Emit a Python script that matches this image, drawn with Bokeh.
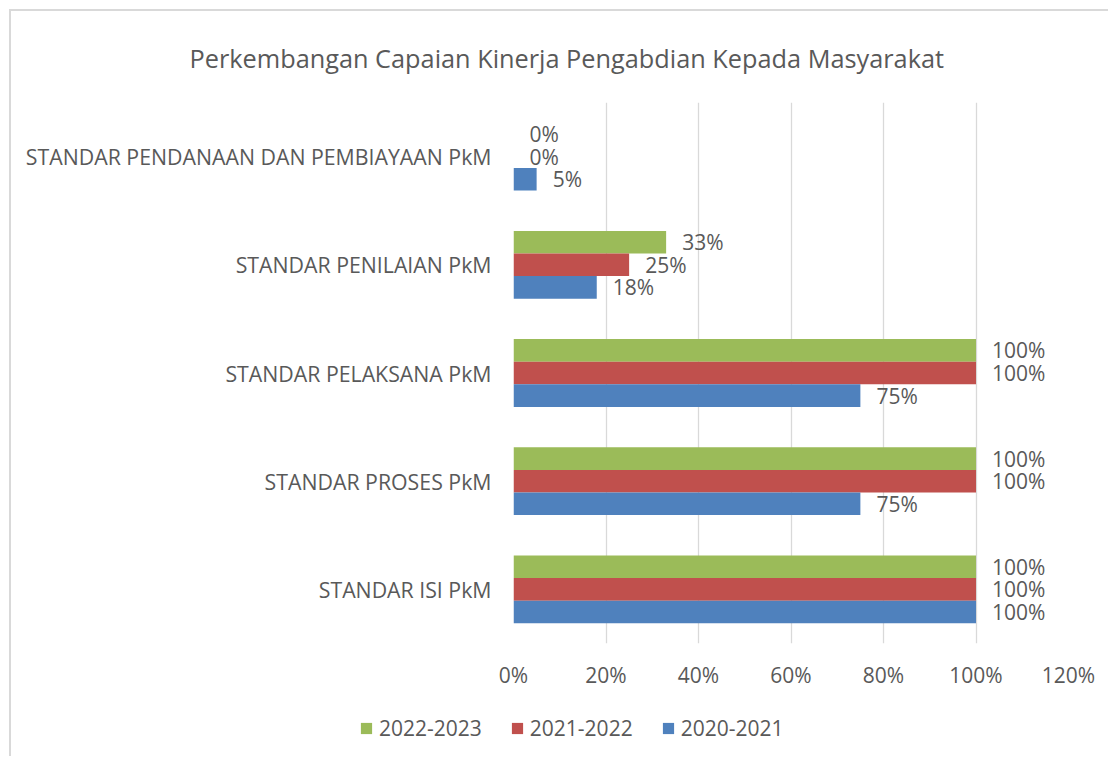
from bokeh.plotting import figure
from bokeh.layouts import column
from bokeh.models import (ColumnDataSource, Legend, LegendItem, Title,
                          NumeralTickFormatter, FixedTicker, Range1d, FactorRange)
from bokeh.transform import dodge
from bokeh.core.properties import value
from bokeh.embed import file_html
from bokeh.resources import INLINE

# ---- data ----
categories = ["STANDAR ISI PkM", "STANDAR PROSES PkM", "STANDAR PELAKSANA PkM",
              "STANDAR PENILAIAN PkM", "STANDAR PENDANAAN DAN PEMBIAYAAN PkM"]
series_names = ["2022-2023", "2021-2022", "2020-2021"]
v_2022_2023 = [1.00, 1.00, 1.00, 0.33, 0.00]
v_2021_2022 = [1.00, 1.00, 1.00, 0.25, 0.00]
v_2020_2021 = [1.00, 0.75, 0.75, 0.18, 0.05]
x_ticks = [0, 0.2, 0.4, 0.6, 0.8, 1.0, 1.2]
title_text = "Perkembangan Capaian Kinerja Pengabdian Kepada Masyarakat"

colors = ["#9BBB59", "#C0504D", "#4F81BD"]
offsets = [0.209, 0.0, -0.209]
values = [v_2022_2023, v_2021_2022, v_2020_2021]

TXT = "#595959"
FONT = "Open Sans"
BORDER = "2px solid #D9D9D9"

p = figure(width=1099, height=689,
           y_range=FactorRange(factors=categories, range_padding=0),
           x_range=Range1d(0, 1.2),
           output_backend="svg", toolbar_location=None,
           min_border_left=502, min_border_right=42,
           min_border_top=89, min_border_bottom=57)
p.frame_align = False
p.styles = {"margin-left": "9px", "margin-top": "9px",
            "border-left": BORDER, "border-top": BORDER}
p.outline_line_color = None
p.background_fill_color = "white"
p.border_fill_color = "white"

sources = []
for name, vals, col, off in zip(series_names, values, colors, offsets):
    src = ColumnDataSource(dict(cat=categories, v=vals,
                                lab=[f"{round(x * 100)}%" for x in vals]))
    p.hbar(y=dodge("cat", off, range=p.y_range), right="v", left=0,
           height=0.209, source=src, fill_color=col, line_color=None)
    p.text(x="v", y=dodge("cat", off, range=p.y_range), text="lab", source=src,
           x_offset=16, text_baseline="middle", text_align="left",
           text_font=value(FONT), text_font_size="21px", text_color=TXT)
    sources.append(src)

# axes
p.xaxis.ticker = FixedTicker(ticks=x_ticks)
p.xaxis.formatter = NumeralTickFormatter(format="0%")
p.xaxis.axis_line_color = None
p.xaxis.major_tick_line_color = None
p.xaxis.minor_tick_line_color = None
p.xaxis.major_label_standoff = 11
p.xaxis.major_label_text_font = FONT
p.xaxis.major_label_text_font_size = "21px"
p.xaxis.major_label_text_color = TXT

p.yaxis.axis_line_color = None
p.yaxis.major_tick_line_color = None
p.yaxis.minor_tick_line_color = None
p.yaxis.major_label_standoff = 16
p.yaxis.major_label_text_font = FONT
p.yaxis.major_label_text_font_size = "21.3px"
p.yaxis.major_label_text_color = TXT

p.ygrid.grid_line_color = None
p.xgrid.ticker = FixedTicker(ticks=x_ticks)
p.xgrid.grid_line_color = "#D9D9D9"
p.xgrid.grid_line_width = 1.3

# title (left aligned, shifted left of the frame so it sits centred on the chart)
p.add_layout(Title(text=title_text, align="left", offset=-324, standoff=55,
                   text_font=FONT, text_font_size="25.3px", text_font_style="normal",
                   text_color=TXT), "above")

# legend strip below the chart
lg = figure(width=1099, height=58, x_range=Range1d(0, 1), y_range=Range1d(0, 1),
            output_backend="svg", toolbar_location=None,
            x_axis_location=None, y_axis_location=None,
            min_border_left=0, min_border_right=0, min_border_top=0, min_border_bottom=0)
lg.frame_align = False
lg.styles = {"margin-left": "9px", "border-left": BORDER}
lg.outline_line_color = None
lg.grid.grid_line_color = None
lg.background_fill_color = "white"
lg.border_fill_color = "white"

key_renderers = []
for src, col in zip(sources, colors):
    # legend keys only: zero-size bars (left == right, height 0) so nothing shows in this strip
    key_renderers.append(lg.hbar(y="v", right="v", left="v", height=0, source=src,
                                 fill_color=col, line_color=None))

legend = Legend(items=[LegendItem(label=n, renderers=[r]) for n, r in zip(series_names, key_renderers)],
                location=(348, 14), orientation="horizontal",
                border_line_color=None, background_fill_alpha=0,
                padding=0, margin=0, spacing=28,
                glyph_width=14, glyph_height=14, label_standoff=6,
                label_text_font=FONT, label_text_font_size="21px",
                label_text_color=TXT)
lg.add_layout(legend)

layout = column(p, lg, spacing=0)
open("out.html", "w").write(file_html(layout, INLINE))
